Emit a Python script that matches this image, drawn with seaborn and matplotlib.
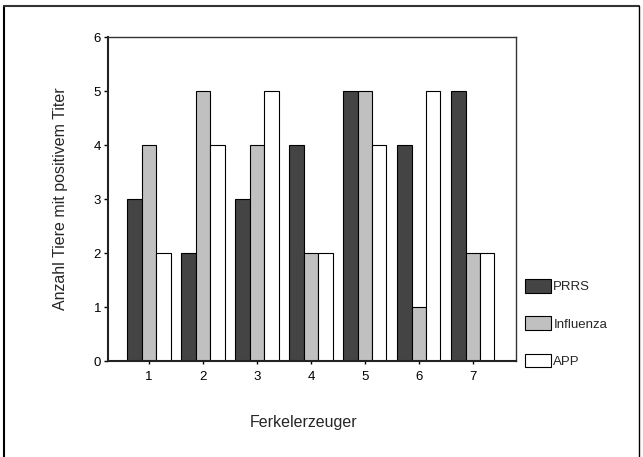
import pandas as pd
import matplotlib.pyplot as plt
import seaborn as sns
from matplotlib.lines import Line2D

# Data
erzeuger = ["1", "2", "3", "4", "5", "6", "7"]
prrs = [3, 2, 3, 4, 5, 4, 5]
influenza = [4, 5, 4, 2, 5, 1, 2]
app = [2, 4, 5, 2, 4, 5, 2]
series = ["PRRS", "Influenza", "APP"]
colors = {"PRRS": "#444444", "Influenza": "#c0c0c0", "APP": "#ffffff"}

df = pd.DataFrame({
    "Ferkelerzeuger": erzeuger * 3,
    "Serie": ["PRRS"] * 7 + ["Influenza"] * 7 + ["APP"] * 7,
    "Anzahl": prrs + influenza + app,
})

sns.set_style("white")
plt.rcParams["font.family"] = ["Liberation Sans", "DejaVu Sans"]

fig = plt.figure(figsize=(6.43, 4.57), dpi=100)
ax = fig.add_axes([108 / 643, 1 - 361 / 457, 408 / 643, 324 / 457])

sns.barplot(data=df, x="Ferkelerzeuger", y="Anzahl", hue="Serie", hue_order=series,
            palette=colors, edgecolor="black", linewidth=0.8, width=0.8,
            saturation=1, ax=ax)

ax.set_xlim(-0.76, 6.8)
ax.set_ylim(0, 6)
ax.set_yticks(range(0, 7))
ax.tick_params(axis="y", direction="out", length=3, width=1, colors="black", labelsize=9.5, pad=2, left=True)
ax.tick_params(axis="x", direction="out", length=2, width=1, colors="black", labelsize=9.5, pad=5, bottom=True)

for side in ["left", "bottom"]:
    ax.spines[side].set_linewidth(1.5)
    ax.spines[side].set_color("#222222")
for side in ["top", "right"]:
    ax.spines[side].set_linewidth(1.0)
    ax.spines[side].set_color("#333333")

ax.set_ylabel("Anzahl Tiere mit positivem Titer", fontsize=11.5)
ax.set_xlabel("Ferkelerzeuger", fontsize=11.5)
ax.yaxis.set_label_coords(-0.098, 0.5)
ax.xaxis.set_label_coords(0.48, -0.167)

handles, labels = ax.get_legend_handles_labels()
ax.legend(handles, labels, loc="upper left", bbox_to_anchor=(525 / 643, 1 - 279 / 457),
          bbox_transform=fig.transFigure, frameon=False, borderpad=0, borderaxespad=0,
          handlelength=2.0, handleheight=1.2, labelspacing=1.75, handletextpad=0.15,
          fontsize=9.5)

# outer frame around the whole picture
fig.add_artist(Line2D([3.5 / 643, 3.5 / 643], [0, 1 - 5.5 / 457], transform=fig.transFigure, color="black", lw=1.5))
fig.add_artist(Line2D([3.5 / 643, 638.5 / 643], [1 - 5.5 / 457, 1 - 5.5 / 457], transform=fig.transFigure, color="#333333", lw=1.5))
fig.add_artist(Line2D([638.5 / 643, 638.5 / 643], [0, 1 - 5.5 / 457], transform=fig.transFigure, color="black", lw=1.0))

fig.savefig("out.png", dpi=100)
